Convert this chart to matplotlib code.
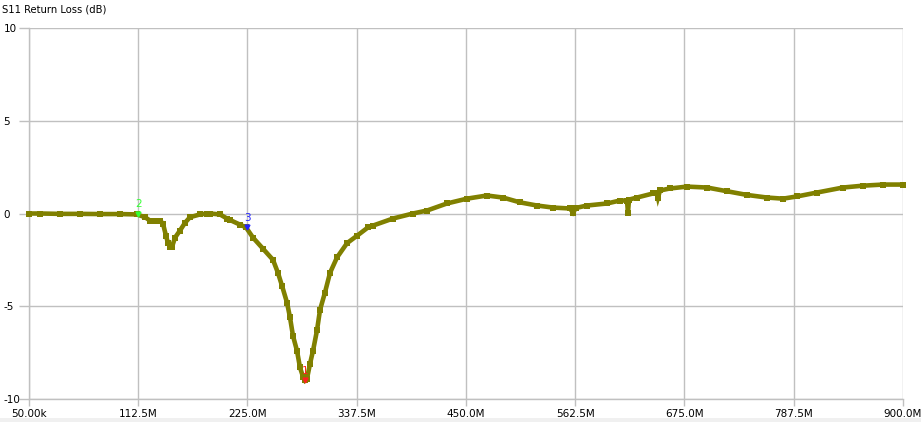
import matplotlib
matplotlib.use("Agg")
import matplotlib.pyplot as plt
from matplotlib.patches import Rectangle

# Frequency (MHz) and S11 return loss (dB)
freq_mhz = [0.05, 11.4, 32.0, 52.6, 73.2, 93.7, 111.3, 119.5, 124.6, 129.8, 134.9,
            138.0, 141.1, 143.2, 145.2, 147.3, 150.4, 155.5, 160.7, 165.8, 176.1,
            183.3, 186.4, 196.7, 203.9, 207.0, 217.3, 223.5, 230.7, 241.0, 251.3,
            256.4, 260.6, 265.7, 268.8, 271.9, 276.0, 279.1, 282.2, 284.2, 286.3,
            289.4, 292.5, 296.6, 299.7, 304.8, 310.0, 317.2, 327.5, 337.8, 349.1,
            354.3, 374.9, 395.4, 409.9, 430.4, 451.0, 471.6, 488.1, 505.6, 523.1,
            539.6, 557.1, 560.2, 563.3, 574.6, 595.2, 608.6, 615.8, 616.8, 617.9,
            626.1, 642.6, 646.7, 647.7, 649.8, 660.1, 677.6, 698.2, 718.8, 739.4,
            760.0, 776.4, 790.9, 811.4, 838.2, 858.8, 879.4, 900.0]
s11_db = [0.0, 0.0, -0.02, -0.02, -0.03, -0.03, -0.05, -0.2, -0.38, -0.38, -0.38,
          -0.54, -1.2, -1.6, -1.8, -1.8, -1.3, -0.92, -0.5, -0.2, -0.05,
          0.0, 0.0, -0.05, -0.27, -0.35, -0.6, -0.75, -1.3, -1.9, -2.5,
          -3.2, -3.9, -4.8, -5.6, -6.6, -7.4, -8.3, -8.8, -9.0, -8.9,
          -8.1, -7.4, -6.3, -5.2, -4.26, -3.2, -2.37, -1.6, -1.2, -0.75,
          -0.65, -0.27, 0.0, 0.16, 0.54, 0.8, 0.97, 0.86, 0.6, 0.43,
          0.32, 0.27, 0.05, 0.3, 0.43, 0.54, 0.7, 0.7, 0.05, 0.75,
          0.86, 1.08, 1.1, 0.86, 1.24, 1.35, 1.45, 1.4, 1.2, 1.0,
          0.86, 0.8, 0.92, 1.13, 1.4, 1.5, 1.56, 1.56]

xtick_vals = [0.05, 112.5, 225.0, 337.5, 450.0, 562.5, 675.0, 787.5, 900.0]
xtick_labels = ["50.00k", "112.5M", "225.0M", "337.5M", "450.0M", "562.5M",
                "675.0M", "787.5M", "900.0M"]
ytick_vals = [-10, -5, 0, 5, 10]

# Markers: (label, freq MHz, dB, color)
marker_names = ["2", "3", "1"]
marker_freqs = [112.5, 225.0, 284.2]
marker_vals = [0.0, -0.75, -9.0]
marker_colors = ["#33ff33", "#2222ff", "#ff2020"]

fig = plt.figure(figsize=(9.21, 4.22), dpi=100)
fig.patch.set_facecolor("white")
fig.patches.append(Rectangle((0, 0), 1, 4 / 422, transform=fig.transFigure,
                             facecolor="#f0f0f0", edgecolor="none", zorder=0))

ax = fig.add_axes([29 / 921, 1 - 399 / 422, (903 - 29) / 921, (399 - 28) / 422])
ax.set_xlim(0.05, 900.0)
ax.set_ylim(-10, 10)

grid_c = "#c0c0c0"
ax.set_xticks(xtick_vals)
ax.set_xticklabels(xtick_labels)
ax.set_yticks(ytick_vals)
ax.set_yticklabels([str(v) for v in ytick_vals])
ax.grid(True, color=grid_c, linewidth=1)
ax.tick_params(axis="both", colors=grid_c, labelcolor="black", labelsize=7.5,
               length=5, width=1, pad=2)
ax.tick_params(axis="y", length=7, pad=11.3)
for lbl in ax.get_yticklabels():
    lbl.set_horizontalalignment("left")
for side in ["top", "right"]:
    ax.spines[side].set_visible(False)
for side in ["left", "bottom"]:
    ax.spines[side].set_color(grid_c)
    ax.spines[side].set_linewidth(1)
ax.set_axisbelow(True)

ax.plot(freq_mhz, s11_db, color="#808000", linewidth=3.3, marker="s",
        markersize=4, markeredgewidth=0, solid_joinstyle="miter", zorder=3,
        clip_on=False)

for name, f, v, c in zip(marker_names, marker_freqs, marker_vals, marker_colors):
    ax.plot([f], [v], marker="v", color=c, markersize=3.5, zorder=5, linestyle="none")
    ax.annotate(name, (f, v), xytext=(0, 3), textcoords="offset points",
                ha="center", va="bottom", color=c, fontsize=7.5, zorder=6)

fig.text(2 / 921, 1 - 10 / 422, "S11 Return Loss (dB)", fontsize=7.2,
         ha="left", va="center", color="black")

fig.savefig("out.png", dpi=100, facecolor=fig.get_facecolor())
